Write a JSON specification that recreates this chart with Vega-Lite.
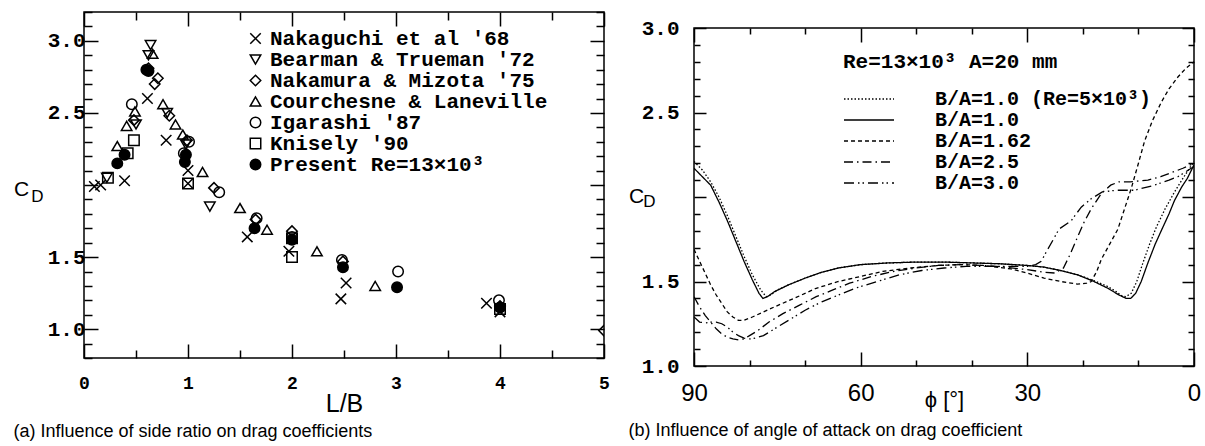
{
  "$schema": "https://vega.github.io/schema/vega-lite/v6.json",
  "background": "white",
  "padding": {"left": 12, "top": 0, "right": 0, "bottom": 0},
  "config": {"view": {"stroke": "black", "strokeWidth": 1.5}, "font": "Liberation Sans"},
  "bounds": "flush",
  "spacing": 90,
  "hconcat": [
    {
      "width": 520,
      "height": 346,
      "title": {"text": "(a) Influence of side ratio on drag coefficients", "orient": "bottom", "anchor": "start", "frame": "bounds", "font": "Liberation Sans", "fontSize": 18, "fontWeight": "normal", "offset": 7, "color": "black"},
      "data": {"values": [
        {"lb": 0.10, "cd": 1.99, "src": "Nakaguchi et al '68"},
        {"lb": 0.16, "cd": 2.00, "src": "Nakaguchi et al '68"},
        {"lb": 0.39, "cd": 2.03, "src": "Nakaguchi et al '68"},
        {"lb": 0.61, "cd": 2.60, "src": "Nakaguchi et al '68"},
        {"lb": 0.79, "cd": 2.31, "src": "Nakaguchi et al '68"},
        {"lb": 1.00, "cd": 2.10, "src": "Nakaguchi et al '68"},
        {"lb": 1.00, "cd": 2.01, "src": "Nakaguchi et al '68"},
        {"lb": 1.57, "cd": 1.64, "src": "Nakaguchi et al '68"},
        {"lb": 1.97, "cd": 1.54, "src": "Nakaguchi et al '68"},
        {"lb": 2.52, "cd": 1.32, "src": "Nakaguchi et al '68"},
        {"lb": 2.47, "cd": 1.21, "src": "Nakaguchi et al '68"},
        {"lb": 3.87, "cd": 1.18, "src": "Nakaguchi et al '68"},
        {"lb": 4.00, "cd": 1.12, "src": "Nakaguchi et al '68"},
        {"lb": 0.22, "cd": 2.05, "src": "Bearman & Trueman '72"},
        {"lb": 0.50, "cd": 2.42, "src": "Bearman & Trueman '72"},
        {"lb": 0.64, "cd": 2.97, "src": "Bearman & Trueman '72"},
        {"lb": 0.62, "cd": 2.90, "src": "Bearman & Trueman '72"},
        {"lb": 0.80, "cd": 2.50, "src": "Bearman & Trueman '72"},
        {"lb": 1.21, "cd": 1.85, "src": "Bearman & Trueman '72"},
        {"lb": 0.98, "cd": 2.28, "src": "Bearman & Trueman '72"},
        {"lb": 0.48, "cd": 2.45, "src": "Nakamura & Mizota '75"},
        {"lb": 0.62, "cd": 2.81, "src": "Nakamura & Mizota '75"},
        {"lb": 0.71, "cd": 2.74, "src": "Nakamura & Mizota '75"},
        {"lb": 0.68, "cd": 2.70, "src": "Nakamura & Mizota '75"},
        {"lb": 0.82, "cd": 2.48, "src": "Nakamura & Mizota '75"},
        {"lb": 0.99, "cd": 2.31, "src": "Nakamura & Mizota '75"},
        {"lb": 1.25, "cd": 1.98, "src": "Nakamura & Mizota '75"},
        {"lb": 1.65, "cd": 1.76, "src": "Nakamura & Mizota '75"},
        {"lb": 2.00, "cd": 1.68, "src": "Nakamura & Mizota '75"},
        {"lb": 2.49, "cd": 1.47, "src": "Nakamura & Mizota '75"},
        {"lb": 4.00, "cd": 1.16, "src": "Nakamura & Mizota '75"},
        {"lb": 5.00, "cd": 0.99, "src": "Nakamura & Mizota '75"},
        {"lb": 0.32, "cd": 2.27, "src": "Courchesne & Laneville"},
        {"lb": 0.41, "cd": 2.41, "src": "Courchesne & Laneville"},
        {"lb": 0.49, "cd": 2.51, "src": "Courchesne & Laneville"},
        {"lb": 0.66, "cd": 2.91, "src": "Courchesne & Laneville"},
        {"lb": 0.76, "cd": 2.56, "src": "Courchesne & Laneville"},
        {"lb": 0.88, "cd": 2.42, "src": "Courchesne & Laneville"},
        {"lb": 0.95, "cd": 2.35, "src": "Courchesne & Laneville"},
        {"lb": 1.14, "cd": 2.09, "src": "Courchesne & Laneville"},
        {"lb": 1.50, "cd": 1.84, "src": "Courchesne & Laneville"},
        {"lb": 1.76, "cd": 1.69, "src": "Courchesne & Laneville"},
        {"lb": 2.24, "cd": 1.54, "src": "Courchesne & Laneville"},
        {"lb": 2.80, "cd": 1.30, "src": "Courchesne & Laneville"},
        {"lb": 0.46, "cd": 2.56, "src": "Igarashi '87"},
        {"lb": 0.96, "cd": 2.22, "src": "Igarashi '87"},
        {"lb": 1.01, "cd": 2.30, "src": "Igarashi '87"},
        {"lb": 1.30, "cd": 1.95, "src": "Igarashi '87"},
        {"lb": 1.66, "cd": 1.77, "src": "Igarashi '87"},
        {"lb": 2.00, "cd": 1.64, "src": "Igarashi '87"},
        {"lb": 2.48, "cd": 1.48, "src": "Igarashi '87"},
        {"lb": 3.02, "cd": 1.40, "src": "Igarashi '87"},
        {"lb": 3.99, "cd": 1.20, "src": "Igarashi '87"},
        {"lb": 0.23, "cd": 2.05, "src": "Knisely '90"},
        {"lb": 0.42, "cd": 2.22, "src": "Knisely '90"},
        {"lb": 0.48, "cd": 2.31, "src": "Knisely '90"},
        {"lb": 1.00, "cd": 2.01, "src": "Knisely '90"},
        {"lb": 2.00, "cd": 1.50, "src": "Knisely '90"},
        {"lb": 2.00, "cd": 1.63, "src": "Knisely '90"},
        {"lb": 4.00, "cd": 1.14, "src": "Knisely '90"},
        {"lb": 0.32, "cd": 2.15, "src": "Present Re=13×10³"},
        {"lb": 0.39, "cd": 2.21, "src": "Present Re=13×10³"},
        {"lb": 0.60, "cd": 2.80, "src": "Present Re=13×10³"},
        {"lb": 0.62, "cd": 2.79, "src": "Present Re=13×10³"},
        {"lb": 0.97, "cd": 2.16, "src": "Present Re=13×10³"},
        {"lb": 0.98, "cd": 2.21, "src": "Present Re=13×10³"},
        {"lb": 1.64, "cd": 1.70, "src": "Present Re=13×10³"},
        {"lb": 2.00, "cd": 1.62, "src": "Present Re=13×10³"},
        {"lb": 2.49, "cd": 1.43, "src": "Present Re=13×10³"},
        {"lb": 3.01, "cd": 1.29, "src": "Present Re=13×10³"},
        {"lb": 4.00, "cd": 1.15, "src": "Present Re=13×10³"}
      ]},
      "resolve": {"axis": {"x": "independent", "y": "independent"}},
      "layer": [
        {
          "mark": {"type": "point", "filled": true, "strokeWidth": 1.5, "size": 110, "clip": true, "opacity": 1},
          "encoding": {
            "x": {"field": "lb", "type": "quantitative", "scale": {"domain": [0, 5], "nice": false, "zero": false},
              "axis": {"orient": "bottom", "values": [0, 0.5, 1, 1.5, 2, 2.5, 3, 3.5, 4, 4.5, 5], "domain": false, "grid": false,
                "tickColor": "black", "tickWidth": 1.5,
                "tickSize": {"condition": {"test": "datum.value % 1 == 0", "value": -14}, "value": -8},
                "labelExpr": "datum.value % 1 == 0 ? format(datum.value, '.0f') : ''",
                "labelFont": "Liberation Mono", "labelFontWeight": "bold", "labelFontSize": 18, "labelColor": "black", "labelPadding": 30,
                "labelFlush": false, "labelOverlap": false,
                "title": "L/B", "titleFont": "Liberation Sans", "titleFontWeight": "normal", "titleFontSize": 25, "titleColor": "black",
                "titleY": 45, "titleBaseline": "middle"}},
            "y": {"field": "cd", "type": "quantitative", "scale": {"domain": [0.8, 3.2], "nice": false, "zero": false},
              "axis": {"orient": "left", "values": [0.8, 0.9, 1.0, 1.1, 1.2, 1.3, 1.4, 1.5, 1.6, 1.7, 1.8, 1.9, 2.0, 2.1, 2.2, 2.3, 2.4, 2.5, 2.6, 2.7, 2.8, 2.9, 3.0, 3.1, 3.2],
                "domain": false, "grid": false, "tickColor": "black", "tickWidth": 1.5,
                "tickSize": {"condition": {"test": "datum.value % 0.5 == 0", "value": -14}, "value": -8},
                "labelExpr": "(datum.value % 0.5 == 0 && datum.value != 2) ? format(datum.value, '.1f') : ''",
                "labelFont": "Liberation Mono", "labelFontWeight": "bold", "labelFontSize": 21, "labelColor": "black", "labelPadding": 13,
                "labelFlush": false, "labelOverlap": false,
                "title": "C", "titleFont": "Liberation Sans", "titleFontWeight": "normal", "titleFontSize": 21, "titleColor": "black",
                "titleAngle": 0, "titleX": -63, "titleY": 177, "titleAlign": "center", "titleBaseline": "middle"}},
            "shape": {"field": "src", "type": "nominal",
              "scale": {"domain": ["Nakaguchi et al '68", "Bearman & Trueman '72", "Nakamura & Mizota '75", "Courchesne & Laneville", "Igarashi '87", "Knisely '90", "Present Re=13×10³"],
                "range": ["M-1,-1L1,1M1,-1L-1,1", "triangle-down", "diamond", "triangle-up", "circle", "square", "circle"]},
              "legend": {"title": null, "orient": "none", "legendX": 161, "legendY": 16, "padding": 0,
                "labelFont": "Liberation Mono", "labelFontWeight": "bold", "labelFontSize": 21, "labelColor": "black", "labelLimit": 500,
                "symbolStrokeColor": "black", "symbolStrokeWidth": 1.5, "symbolSize": 110, "rowPadding": -1, "labelOffset": 4}},
            "fill": {"field": "src", "type": "nominal",
              "scale": {"domain": ["Nakaguchi et al '68", "Bearman & Trueman '72", "Nakamura & Mizota '75", "Courchesne & Laneville", "Igarashi '87", "Knisely '90", "Present Re=13×10³"],
                "range": ["transparent", "transparent", "transparent", "transparent", "transparent", "transparent", "black"]},
              "legend": {"title": null, "orient": "none", "legendX": 161, "legendY": 16, "padding": 0,
                "labelFont": "Liberation Mono", "labelFontWeight": "bold", "labelFontSize": 21, "labelColor": "black", "labelLimit": 500,
                "symbolStrokeColor": "black", "symbolStrokeWidth": 1.5, "symbolSize": 110, "rowPadding": -1, "labelOffset": 4}},
            "stroke": {"field": "src", "type": "nominal",
              "scale": {"domain": ["Nakaguchi et al '68", "Bearman & Trueman '72", "Nakamura & Mizota '75", "Courchesne & Laneville", "Igarashi '87", "Knisely '90", "Present Re=13×10³"],
                "range": ["black", "black", "black", "black", "black", "black", "black"]},
              "legend": {"title": null, "orient": "none", "legendX": 161, "legendY": 16, "padding": 0,
                "labelFont": "Liberation Mono", "labelFontWeight": "bold", "labelFontSize": 21, "labelColor": "black", "labelLimit": 500,
                "symbolStrokeWidth": 1.5, "symbolSize": 110, "rowPadding": -1, "labelOffset": 4}}
          }
        },
        {
          "mark": {"type": "point", "opacity": 0},
          "encoding": {
            "x": {"field": "lb", "type": "quantitative",
              "axis": {"orient": "top", "values": [0, 0.5, 1, 1.5, 2, 2.5, 3, 3.5, 4, 4.5, 5], "domain": false, "grid": false, "labels": false,
                "tickColor": "black", "tickWidth": 1.5,
                "tickSize": {"condition": {"test": "datum.value % 1 == 0", "value": -14}, "value": -8}, "title": null}},
            "y": {"field": "cd", "type": "quantitative",
              "axis": {"orient": "right", "values": [0.8, 0.9, 1.0, 1.1, 1.2, 1.3, 1.4, 1.5, 1.6, 1.7, 1.8, 1.9, 2.0, 2.1, 2.2, 2.3, 2.4, 2.5, 2.6, 2.7, 2.8, 2.9, 3.0, 3.1, 3.2],
                "domain": false, "grid": false, "labels": false, "tickColor": "black", "tickWidth": 1.5,
                "tickSize": {"condition": {"test": "datum.value % 0.5 == 0", "value": -14}, "value": -8},
                "title": "D", "titleFont": "Liberation Sans", "titleFontWeight": "normal", "titleFontSize": 17, "titleColor": "black",
                "titleAngle": 0, "titleX": -567, "titleY": 184, "titleAlign": "center", "titleBaseline": "middle"}}
          }
        }
      ]
    },
    {
      "spacing": 0,
      "bounds": "flush",
      "vconcat": [
        {"width": 500, "height": 16, "view": {"stroke": null}, "data": {"values": []}, "mark": {"type": "point", "opacity": 0}, "encoding": {}},
        {
          "width": 500,
          "height": 338,
          "title": {"text": "(b) Influence of angle of attack on drag coefficient", "orient": "bottom", "anchor": "start", "frame": "bounds", "font": "Liberation Sans", "fontSize": 18, "fontWeight": "normal", "offset": 9, "color": "black"},
          "data": {"values": [
            {"phi": 90, "cd": 2.21, "ba": "B/A=1.0 (Re=5×10³)"},
            {"phi": 88.5, "cd": 2.16, "ba": "B/A=1.0 (Re=5×10³)"},
            {"phi": 87, "cd": 2.09, "ba": "B/A=1.0 (Re=5×10³)"},
            {"phi": 85.5, "cd": 2.00, "ba": "B/A=1.0 (Re=5×10³)"},
            {"phi": 84, "cd": 1.89, "ba": "B/A=1.0 (Re=5×10³)"},
            {"phi": 82.5, "cd": 1.77, "ba": "B/A=1.0 (Re=5×10³)"},
            {"phi": 81, "cd": 1.65, "ba": "B/A=1.0 (Re=5×10³)"},
            {"phi": 79.5, "cd": 1.54, "ba": "B/A=1.0 (Re=5×10³)"},
            {"phi": 78, "cd": 1.45, "ba": "B/A=1.0 (Re=5×10³)"},
            {"phi": 77, "cd": 1.41, "ba": "B/A=1.0 (Re=5×10³)"},
            {"phi": 76.2, "cd": 1.42, "ba": "B/A=1.0 (Re=5×10³)"},
            {"phi": 75, "cd": 1.45, "ba": "B/A=1.0 (Re=5×10³)"},
            {"phi": 73, "cd": 1.48, "ba": "B/A=1.0 (Re=5×10³)"},
            {"phi": 70, "cd": 1.52, "ba": "B/A=1.0 (Re=5×10³)"},
            {"phi": 67, "cd": 1.555, "ba": "B/A=1.0 (Re=5×10³)"},
            {"phi": 64, "cd": 1.58, "ba": "B/A=1.0 (Re=5×10³)"},
            {"phi": 60, "cd": 1.60, "ba": "B/A=1.0 (Re=5×10³)"},
            {"phi": 55, "cd": 1.61, "ba": "B/A=1.0 (Re=5×10³)"},
            {"phi": 50, "cd": 1.615, "ba": "B/A=1.0 (Re=5×10³)"},
            {"phi": 45, "cd": 1.615, "ba": "B/A=1.0 (Re=5×10³)"},
            {"phi": 40, "cd": 1.61, "ba": "B/A=1.0 (Re=5×10³)"},
            {"phi": 35, "cd": 1.605, "ba": "B/A=1.0 (Re=5×10³)"},
            {"phi": 30, "cd": 1.595, "ba": "B/A=1.0 (Re=5×10³)"},
            {"phi": 27, "cd": 1.585, "ba": "B/A=1.0 (Re=5×10³)"},
            {"phi": 24, "cd": 1.565, "ba": "B/A=1.0 (Re=5×10³)"},
            {"phi": 21, "cd": 1.54, "ba": "B/A=1.0 (Re=5×10³)"},
            {"phi": 18, "cd": 1.505, "ba": "B/A=1.0 (Re=5×10³)"},
            {"phi": 15.5, "cd": 1.47, "ba": "B/A=1.0 (Re=5×10³)"},
            {"phi": 14, "cd": 1.44, "ba": "B/A=1.0 (Re=5×10³)"},
            {"phi": 13, "cd": 1.415, "ba": "B/A=1.0 (Re=5×10³)"},
            {"phi": 12.3, "cd": 1.41, "ba": "B/A=1.0 (Re=5×10³)"},
            {"phi": 11.3, "cd": 1.43, "ba": "B/A=1.0 (Re=5×10³)"},
            {"phi": 10.3, "cd": 1.50, "ba": "B/A=1.0 (Re=5×10³)"},
            {"phi": 9.2, "cd": 1.61, "ba": "B/A=1.0 (Re=5×10³)"},
            {"phi": 8, "cd": 1.72, "ba": "B/A=1.0 (Re=5×10³)"},
            {"phi": 6.8, "cd": 1.82, "ba": "B/A=1.0 (Re=5×10³)"},
            {"phi": 5.2, "cd": 1.93, "ba": "B/A=1.0 (Re=5×10³)"},
            {"phi": 3.5, "cd": 2.03, "ba": "B/A=1.0 (Re=5×10³)"},
            {"phi": 2, "cd": 2.11, "ba": "B/A=1.0 (Re=5×10³)"},
            {"phi": 1, "cd": 2.16, "ba": "B/A=1.0 (Re=5×10³)"},
            {"phi": 0, "cd": 2.21, "ba": "B/A=1.0 (Re=5×10³)"},
            {"phi": 90, "cd": 2.17, "ba": "B/A=1.0"},
            {"phi": 88.5, "cd": 2.12, "ba": "B/A=1.0"},
            {"phi": 87, "cd": 2.07, "ba": "B/A=1.0"},
            {"phi": 85.5, "cd": 1.97, "ba": "B/A=1.0"},
            {"phi": 84, "cd": 1.86, "ba": "B/A=1.0"},
            {"phi": 82.5, "cd": 1.74, "ba": "B/A=1.0"},
            {"phi": 81, "cd": 1.62, "ba": "B/A=1.0"},
            {"phi": 79.5, "cd": 1.51, "ba": "B/A=1.0"},
            {"phi": 78.3, "cd": 1.43, "ba": "B/A=1.0"},
            {"phi": 77.6, "cd": 1.40, "ba": "B/A=1.0"},
            {"phi": 76.8, "cd": 1.41, "ba": "B/A=1.0"},
            {"phi": 75.5, "cd": 1.44, "ba": "B/A=1.0"},
            {"phi": 73, "cd": 1.48, "ba": "B/A=1.0"},
            {"phi": 70, "cd": 1.52, "ba": "B/A=1.0"},
            {"phi": 67, "cd": 1.555, "ba": "B/A=1.0"},
            {"phi": 64, "cd": 1.58, "ba": "B/A=1.0"},
            {"phi": 60, "cd": 1.60, "ba": "B/A=1.0"},
            {"phi": 55, "cd": 1.61, "ba": "B/A=1.0"},
            {"phi": 50, "cd": 1.615, "ba": "B/A=1.0"},
            {"phi": 45, "cd": 1.615, "ba": "B/A=1.0"},
            {"phi": 40, "cd": 1.61, "ba": "B/A=1.0"},
            {"phi": 35, "cd": 1.605, "ba": "B/A=1.0"},
            {"phi": 30, "cd": 1.595, "ba": "B/A=1.0"},
            {"phi": 27, "cd": 1.585, "ba": "B/A=1.0"},
            {"phi": 24, "cd": 1.565, "ba": "B/A=1.0"},
            {"phi": 21, "cd": 1.54, "ba": "B/A=1.0"},
            {"phi": 18, "cd": 1.50, "ba": "B/A=1.0"},
            {"phi": 15.5, "cd": 1.46, "ba": "B/A=1.0"},
            {"phi": 13.5, "cd": 1.42, "ba": "B/A=1.0"},
            {"phi": 12.2, "cd": 1.40, "ba": "B/A=1.0"},
            {"phi": 11.4, "cd": 1.40, "ba": "B/A=1.0"},
            {"phi": 10.5, "cd": 1.43, "ba": "B/A=1.0"},
            {"phi": 9.5, "cd": 1.50, "ba": "B/A=1.0"},
            {"phi": 8.3, "cd": 1.61, "ba": "B/A=1.0"},
            {"phi": 7, "cd": 1.72, "ba": "B/A=1.0"},
            {"phi": 5.9, "cd": 1.80, "ba": "B/A=1.0"},
            {"phi": 4.5, "cd": 1.90, "ba": "B/A=1.0"},
            {"phi": 3.5, "cd": 1.98, "ba": "B/A=1.0"},
            {"phi": 2.2, "cd": 2.06, "ba": "B/A=1.0"},
            {"phi": 1.2, "cd": 2.11, "ba": "B/A=1.0"},
            {"phi": 0, "cd": 2.19, "ba": "B/A=1.0"},
            {"phi": 90, "cd": 1.69, "ba": "B/A=1.62"},
            {"phi": 89, "cd": 1.62, "ba": "B/A=1.62"},
            {"phi": 88, "cd": 1.55, "ba": "B/A=1.62"},
            {"phi": 87, "cd": 1.48, "ba": "B/A=1.62"},
            {"phi": 86, "cd": 1.42, "ba": "B/A=1.62"},
            {"phi": 85, "cd": 1.37, "ba": "B/A=1.62"},
            {"phi": 84, "cd": 1.32, "ba": "B/A=1.62"},
            {"phi": 83, "cd": 1.29, "ba": "B/A=1.62"},
            {"phi": 82, "cd": 1.27, "ba": "B/A=1.62"},
            {"phi": 81, "cd": 1.27, "ba": "B/A=1.62"},
            {"phi": 79.5, "cd": 1.29, "ba": "B/A=1.62"},
            {"phi": 77.5, "cd": 1.32, "ba": "B/A=1.62"},
            {"phi": 75.5, "cd": 1.35, "ba": "B/A=1.62"},
            {"phi": 72, "cd": 1.40, "ba": "B/A=1.62"},
            {"phi": 68, "cd": 1.46, "ba": "B/A=1.62"},
            {"phi": 64, "cd": 1.50, "ba": "B/A=1.62"},
            {"phi": 60, "cd": 1.53, "ba": "B/A=1.62"},
            {"phi": 56, "cd": 1.56, "ba": "B/A=1.62"},
            {"phi": 51, "cd": 1.58, "ba": "B/A=1.62"},
            {"phi": 46, "cd": 1.595, "ba": "B/A=1.62"},
            {"phi": 42, "cd": 1.60, "ba": "B/A=1.62"},
            {"phi": 38, "cd": 1.595, "ba": "B/A=1.62"},
            {"phi": 33, "cd": 1.575, "ba": "B/A=1.62"},
            {"phi": 30, "cd": 1.55, "ba": "B/A=1.62"},
            {"phi": 27, "cd": 1.52, "ba": "B/A=1.62"},
            {"phi": 24, "cd": 1.50, "ba": "B/A=1.62"},
            {"phi": 21, "cd": 1.485, "ba": "B/A=1.62"},
            {"phi": 19.3, "cd": 1.49, "ba": "B/A=1.62"},
            {"phi": 18.5, "cd": 1.50, "ba": "B/A=1.62"},
            {"phi": 17.5, "cd": 1.56, "ba": "B/A=1.62"},
            {"phi": 16.7, "cd": 1.63, "ba": "B/A=1.62"},
            {"phi": 15.2, "cd": 1.72, "ba": "B/A=1.62"},
            {"phi": 13.7, "cd": 1.81, "ba": "B/A=1.62"},
            {"phi": 12.5, "cd": 1.93, "ba": "B/A=1.62"},
            {"phi": 11.3, "cd": 2.05, "ba": "B/A=1.62"},
            {"phi": 10, "cd": 2.20, "ba": "B/A=1.62"},
            {"phi": 8.9, "cd": 2.33, "ba": "B/A=1.62"},
            {"phi": 7.5, "cd": 2.45, "ba": "B/A=1.62"},
            {"phi": 5.9, "cd": 2.56, "ba": "B/A=1.62"},
            {"phi": 4.5, "cd": 2.64, "ba": "B/A=1.62"},
            {"phi": 2.9, "cd": 2.71, "ba": "B/A=1.62"},
            {"phi": 1.5, "cd": 2.76, "ba": "B/A=1.62"},
            {"phi": 0, "cd": 2.80, "ba": "B/A=1.62"},
            {"phi": 90, "cd": 1.41, "ba": "B/A=2.5"},
            {"phi": 89, "cd": 1.35, "ba": "B/A=2.5"},
            {"phi": 88, "cd": 1.30, "ba": "B/A=2.5"},
            {"phi": 87, "cd": 1.26, "ba": "B/A=2.5"},
            {"phi": 86, "cd": 1.22, "ba": "B/A=2.5"},
            {"phi": 85, "cd": 1.19, "ba": "B/A=2.5"},
            {"phi": 84, "cd": 1.17, "ba": "B/A=2.5"},
            {"phi": 83, "cd": 1.16, "ba": "B/A=2.5"},
            {"phi": 82, "cd": 1.155, "ba": "B/A=2.5"},
            {"phi": 81, "cd": 1.16, "ba": "B/A=2.5"},
            {"phi": 80, "cd": 1.18, "ba": "B/A=2.5"},
            {"phi": 78.5, "cd": 1.21, "ba": "B/A=2.5"},
            {"phi": 76.5, "cd": 1.26, "ba": "B/A=2.5"},
            {"phi": 74, "cd": 1.31, "ba": "B/A=2.5"},
            {"phi": 71, "cd": 1.36, "ba": "B/A=2.5"},
            {"phi": 68, "cd": 1.41, "ba": "B/A=2.5"},
            {"phi": 65, "cd": 1.45, "ba": "B/A=2.5"},
            {"phi": 62, "cd": 1.49, "ba": "B/A=2.5"},
            {"phi": 58, "cd": 1.53, "ba": "B/A=2.5"},
            {"phi": 54, "cd": 1.56, "ba": "B/A=2.5"},
            {"phi": 50, "cd": 1.58, "ba": "B/A=2.5"},
            {"phi": 46, "cd": 1.595, "ba": "B/A=2.5"},
            {"phi": 42, "cd": 1.60, "ba": "B/A=2.5"},
            {"phi": 38, "cd": 1.595, "ba": "B/A=2.5"},
            {"phi": 34, "cd": 1.585, "ba": "B/A=2.5"},
            {"phi": 30, "cd": 1.57, "ba": "B/A=2.5"},
            {"phi": 27, "cd": 1.555, "ba": "B/A=2.5"},
            {"phi": 25, "cd": 1.55, "ba": "B/A=2.5"},
            {"phi": 23.5, "cd": 1.58, "ba": "B/A=2.5"},
            {"phi": 22.3, "cd": 1.66, "ba": "B/A=2.5"},
            {"phi": 21, "cd": 1.76, "ba": "B/A=2.5"},
            {"phi": 19.8, "cd": 1.85, "ba": "B/A=2.5"},
            {"phi": 18.5, "cd": 1.93, "ba": "B/A=2.5"},
            {"phi": 16.7, "cd": 2.02, "ba": "B/A=2.5"},
            {"phi": 15, "cd": 2.07, "ba": "B/A=2.5"},
            {"phi": 13.5, "cd": 2.09, "ba": "B/A=2.5"},
            {"phi": 11.5, "cd": 2.09, "ba": "B/A=2.5"},
            {"phi": 8.3, "cd": 2.10, "ba": "B/A=2.5"},
            {"phi": 6, "cd": 2.12, "ba": "B/A=2.5"},
            {"phi": 4, "cd": 2.145, "ba": "B/A=2.5"},
            {"phi": 2, "cd": 2.17, "ba": "B/A=2.5"},
            {"phi": 0, "cd": 2.20, "ba": "B/A=2.5"},
            {"phi": 90, "cd": 1.29, "ba": "B/A=3.0"},
            {"phi": 89, "cd": 1.26, "ba": "B/A=3.0"},
            {"phi": 88, "cd": 1.255, "ba": "B/A=3.0"},
            {"phi": 87, "cd": 1.26, "ba": "B/A=3.0"},
            {"phi": 86, "cd": 1.26, "ba": "B/A=3.0"},
            {"phi": 85, "cd": 1.25, "ba": "B/A=3.0"},
            {"phi": 84, "cd": 1.23, "ba": "B/A=3.0"},
            {"phi": 83, "cd": 1.20, "ba": "B/A=3.0"},
            {"phi": 82, "cd": 1.18, "ba": "B/A=3.0"},
            {"phi": 81, "cd": 1.165, "ba": "B/A=3.0"},
            {"phi": 80, "cd": 1.16, "ba": "B/A=3.0"},
            {"phi": 79, "cd": 1.165, "ba": "B/A=3.0"},
            {"phi": 77.5, "cd": 1.18, "ba": "B/A=3.0"},
            {"phi": 75.5, "cd": 1.22, "ba": "B/A=3.0"},
            {"phi": 73, "cd": 1.27, "ba": "B/A=3.0"},
            {"phi": 70, "cd": 1.33, "ba": "B/A=3.0"},
            {"phi": 67, "cd": 1.38, "ba": "B/A=3.0"},
            {"phi": 64, "cd": 1.42, "ba": "B/A=3.0"},
            {"phi": 61, "cd": 1.46, "ba": "B/A=3.0"},
            {"phi": 57, "cd": 1.50, "ba": "B/A=3.0"},
            {"phi": 53, "cd": 1.54, "ba": "B/A=3.0"},
            {"phi": 49, "cd": 1.565, "ba": "B/A=3.0"},
            {"phi": 45, "cd": 1.58, "ba": "B/A=3.0"},
            {"phi": 41, "cd": 1.59, "ba": "B/A=3.0"},
            {"phi": 37, "cd": 1.59, "ba": "B/A=3.0"},
            {"phi": 33, "cd": 1.59, "ba": "B/A=3.0"},
            {"phi": 30, "cd": 1.59, "ba": "B/A=3.0"},
            {"phi": 28.5, "cd": 1.60, "ba": "B/A=3.0"},
            {"phi": 27.5, "cd": 1.62, "ba": "B/A=3.0"},
            {"phi": 26.5, "cd": 1.68, "ba": "B/A=3.0"},
            {"phi": 25.3, "cd": 1.75, "ba": "B/A=3.0"},
            {"phi": 24.3, "cd": 1.81, "ba": "B/A=3.0"},
            {"phi": 22.1, "cd": 1.86, "ba": "B/A=3.0"},
            {"phi": 20.3, "cd": 1.94, "ba": "B/A=3.0"},
            {"phi": 18.5, "cd": 1.99, "ba": "B/A=3.0"},
            {"phi": 16.5, "cd": 2.03, "ba": "B/A=3.0"},
            {"phi": 14, "cd": 2.04, "ba": "B/A=3.0"},
            {"phi": 10.7, "cd": 2.04, "ba": "B/A=3.0"},
            {"phi": 7.1, "cd": 2.07, "ba": "B/A=3.0"},
            {"phi": 4.5, "cd": 2.10, "ba": "B/A=3.0"},
            {"phi": 2.9, "cd": 2.12, "ba": "B/A=3.0"},
            {"phi": 0, "cd": 2.18, "ba": "B/A=3.0"}
          ]},
          "resolve": {"axis": {"x": "independent", "y": "independent"}},
          "layer": [
            {
              "mark": {"type": "line", "color": "black", "strokeWidth": 1.3, "clip": true},
              "encoding": {
                "x": {"field": "phi", "type": "quantitative", "scale": {"domain": [0, 90], "reverse": true, "nice": false, "zero": false},
                  "axis": {"orient": "bottom", "values": [0, 10, 20, 30, 40, 50, 60, 70, 80, 90], "domain": false, "grid": false,
                    "tickColor": "black", "tickWidth": 1.5,
                    "tickSize": {"condition": {"test": "datum.value % 30 == 0", "value": -14}, "value": -6},
                    "labelExpr": "datum.value % 30 == 0 ? format(datum.value, '.0f') : ''",
                    "labelFont": "Liberation Sans", "labelFontSize": 24, "labelColor": "black", "labelPadding": 29,
                    "labelFlush": false, "labelOverlap": false,
                    "title": "ϕ [°]", "titleFont": "Liberation Sans", "titleFontWeight": "normal", "titleFontSize": 22, "titleColor": "black",
                    "titleY": 33, "titleBaseline": "middle"}},
                "y": {"field": "cd", "type": "quantitative", "scale": {"domain": [1.0, 3.0], "nice": false, "zero": false},
                  "axis": {"orient": "left", "values": [1.0, 1.1, 1.2, 1.3, 1.4, 1.5, 1.6, 1.7, 1.8, 1.9, 2.0, 2.1, 2.2, 2.3, 2.4, 2.5, 2.6, 2.7, 2.8, 2.9, 3.0],
                    "domain": false, "grid": false, "tickColor": "black", "tickWidth": 1.5,
                    "tickSize": {"condition": {"test": "datum.value % 0.5 == 0", "value": -12}, "value": -6},
                    "labelExpr": "(datum.value % 0.5 == 0 && datum.value != 2) ? format(datum.value, '.1f') : ''",
                    "labelFont": "Liberation Mono", "labelFontWeight": "bold", "labelFontSize": 21, "labelColor": "black", "labelPadding": 27,
                    "labelFlush": false, "labelOverlap": false,
                    "title": "C", "titleFont": "Liberation Sans", "titleFontWeight": "normal", "titleFontSize": 21, "titleColor": "black",
                    "titleAngle": 0, "titleX": -58, "titleY": 168, "titleAlign": "center", "titleBaseline": "middle"}},
                "strokeDash": {"field": "ba", "type": "nominal",
                  "scale": {"domain": ["B/A=1.0 (Re=5×10³)", "B/A=1.0", "B/A=1.62", "B/A=2.5", "B/A=3.0"],
                    "range": [[1.5, 2], [1, 0], [4, 3], [9, 4, 1.5, 4], [10, 4, 1.5, 3, 1.5, 4]]},
                  "legend": {"title": "Re=13×10³  A=20 mm", "orient": "none", "legendX": 759, "legendY": 39, "padding": 0,
                    "titleFont": "Liberation Mono", "titleFontWeight": "bold", "titleFontSize": 21, "titleColor": "black", "titlePadding": 16, "titleLimit": 500,
                    "labelFont": "Liberation Mono", "labelFontWeight": "bold", "labelFontSize": 20, "labelColor": "black", "labelLimit": 500,
                    "labelOffset": 70, "symbolType": "M-1,0L4,0", "symbolSize": 400, "symbolStrokeColor": "black", "symbolStrokeWidth": 1.3, "rowPadding": -2}}
              }
            },
            {
              "mark": {"type": "point", "opacity": 0},
              "encoding": {
                "x": {"field": "phi", "type": "quantitative",
                  "axis": {"orient": "top", "values": [0, 10, 20, 30, 40, 50, 60, 70, 80, 90], "domain": false, "grid": false, "labels": false,
                    "tickColor": "black", "tickWidth": 1.5,
                    "tickSize": {"condition": {"test": "datum.value % 30 == 0", "value": -14}, "value": -6}, "title": null}},
                "y": {"field": "cd", "type": "quantitative",
                  "axis": {"orient": "right", "values": [1.0, 1.1, 1.2, 1.3, 1.4, 1.5, 1.6, 1.7, 1.8, 1.9, 2.0, 2.1, 2.2, 2.3, 2.4, 2.5, 2.6, 2.7, 2.8, 2.9, 3.0],
                    "domain": false, "grid": false, "labels": false, "tickColor": "black", "tickWidth": 1.5,
                    "tickSize": {"condition": {"test": "datum.value % 0.5 == 0", "value": -12}, "value": -6},
                    "title": "D", "titleFont": "Liberation Sans", "titleFontWeight": "normal", "titleFontSize": 17, "titleColor": "black",
                    "titleAngle": 0, "titleX": -545, "titleY": 173, "titleAlign": "center", "titleBaseline": "middle"}}
              }
            }
          ]
        }
      ]
    }
  ]
}
